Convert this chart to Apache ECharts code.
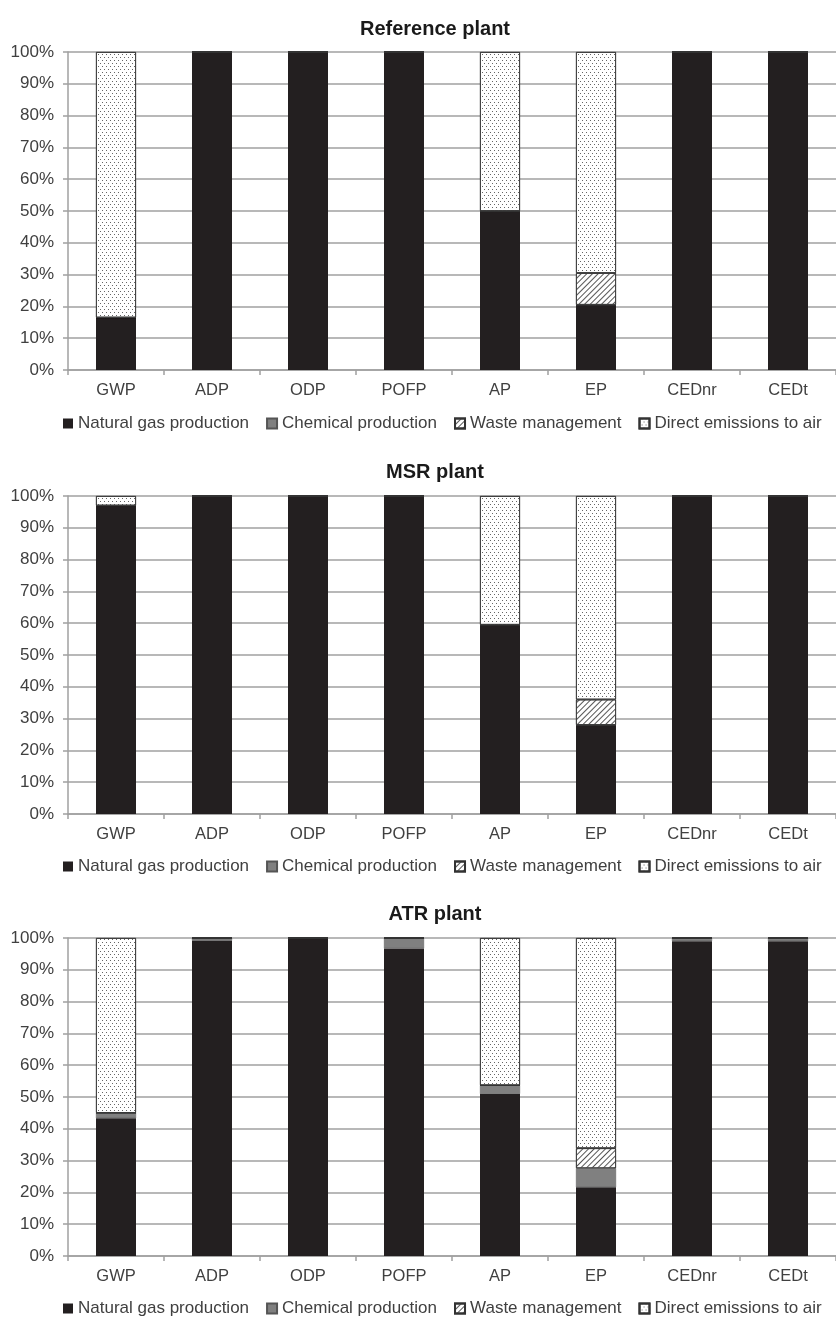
<!DOCTYPE html>
<html>
<head>
<meta charset="utf-8">
<script src="https://cdn.jsdelivr.net/npm/echarts@6/dist/echarts.min.js"></script>
<style>
  html, body { margin: 0; padding: 0; background: #fff; }
  #main { width: 836px; height: 1331px; }
</style>
</head>
<body>
<div id="main"></div>
<script>
// categories and tick labels
const categories = ["GWP", "ADP", "ODP", "POFP", "AP", "EP", "CEDnr", "CEDt"];
const seriesNames = ["Natural gas production", "Chemical production", "Waste management", "Direct emissions to air"];
const plantTitles = ["Reference plant", "MSR plant", "ATR plant"];

// Reference plant (%)
const refNaturalGas = [16.5, 100, 100, 100, 50, 20.5, 100, 100];
const refChemical   = [0, 0, 0, 0, 0, 0, 0, 0];
const refWaste      = [0, 0, 0, 0, 0, 10, 0, 0];
const refDirect     = [83.5, 0, 0, 0, 50, 69.5, 0, 0];

// MSR plant (%)
const msrNaturalGas = [97, 100, 100, 100, 59.5, 28, 100, 100];
const msrChemical   = [0, 0, 0, 0, 0, 0, 0, 0];
const msrWaste      = [0, 0, 0, 0, 0, 8, 0, 0];
const msrDirect     = [3, 0, 0, 0, 40.5, 64, 0, 0];

// ATR plant (%)
const atrNaturalGas = [43.3, 99.2, 100, 96.7, 51, 21.6, 99, 99];
const atrChemical   = [1.7, 0.8, 0, 3.3, 2.7, 6, 1, 1];
const atrWaste      = [0, 0, 0, 0, 0, 6.3, 0, 0];
const atrDirect     = [55, 0, 0, 0, 46.3, 66.1, 0, 0];

const plantData = [
  [refNaturalGas, refChemical, refWaste, refDirect],
  [msrNaturalGas, msrChemical, msrWaste, msrDirect],
  [atrNaturalGas, atrChemical, atrWaste, atrDirect]
];

const font = "Liberation Sans, Arial, sans-serif";
const textGray = "#404040";

// layout of the three panels
const gridTops = [52, 496, 938];
const plotHeight = 318;
const titleTops = [14, 457, 899];
const legendTops = [410, 853, 1295];

const dotDecal = {
  symbol: "rect",
  symbolSize: 1,
  dashArrayX: [[1, 3], [0, 2, 1, 1]],
  dashArrayY: [1, 2],
  color: "#666"
};
const hatchDecal = {
  symbol: "rect",
  symbolSize: 1,
  dashArrayX: [1, 0],
  dashArrayY: [0.9, 2.6],
  rotation: -Math.PI / 4,
  color: "#555"
};

const itemStyles = [
  { color: "#231f20" },
  { color: "#808080", borderColor: "#555", borderWidth: 0.5 },
  { color: "#ffffff", borderColor: "#333", borderWidth: 0.8, decal: hatchDecal },
  { color: "#ffffff", borderColor: "#333", borderWidth: 0.8, decal: dotDecal }
];

const option = {
  animation: false,
  backgroundColor: "#fff",
  title: [],
  legend: [],
  grid: [],
  xAxis: [],
  yAxis: [],
  series: []
};

for (let p = 0; p < 3; p++) {
  option.title.push({
    text: plantTitles[p],
    left: 430,
    textAlign: "center",
    top: titleTops[p],
    textStyle: { fontFamily: font, fontSize: 20, fontWeight: "bold", color: "#1a1a1a" }
  });
  option.grid.push({ left: 68, width: 776, top: gridTops[p], height: plotHeight });
  option.xAxis.push({
    type: "category",
    gridIndex: p,
    data: categories,
    axisLine: { lineStyle: { color: "#a0a0a0", width: 1.5 } },
    axisTick: { show: true, length: 5, lineStyle: { color: "#a0a0a0", width: 1.5 } },
    axisLabel: { margin: 12, fontFamily: font, fontSize: 16.5, color: textGray }
  });
  option.yAxis.push({
    type: "value",
    gridIndex: p,
    min: 0,
    max: 100,
    interval: 10,
    axisLine: { show: true, lineStyle: { color: "#a0a0a0", width: 1.5 } },
    axisTick: { show: true, length: 5, lineStyle: { color: "#a0a0a0", width: 1.5 } },
    splitLine: { lineStyle: { color: "#a0a0a0", width: 1.5 } },
    axisLabel: { margin: 14, formatter: "{value}%", fontFamily: font, fontSize: 17, color: textGray }
  });
  option.legend.push({
    data: seriesNames.map(function (n) { return n + "\u200b".repeat(p); }),
    left: 58,
    top: legendTops[p],
    icon: "rect",
    itemWidth: 10,
    itemHeight: 10,
    itemGap: 17,
    selectedMode: false,
    formatter: function (name) { return name.replace(/\u200b/g, ""); },
    textStyle: { fontFamily: font, fontSize: 17, color: textGray }
  });
  for (let s = 0; s < 4; s++) {
    option.series.push({
      name: seriesNames[s] + "\u200b".repeat(p),
      type: "bar",
      stack: "plant" + p,
      xAxisIndex: p,
      yAxisIndex: p,
      barWidth: 40,
      data: plantData[p][s],
      itemStyle: itemStyles[s]
    });
  }
}

const chart = echarts.init(document.getElementById("main"), null, { renderer: "canvas" });
chart.setOption(option);
</script>
</body>
</html>
